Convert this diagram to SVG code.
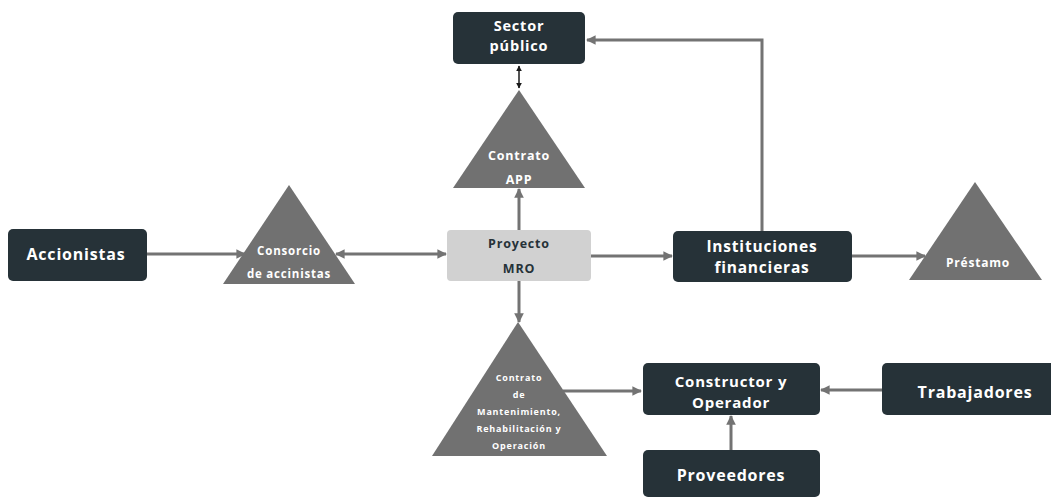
<svg xmlns="http://www.w3.org/2000/svg" width="1051" height="500" viewBox="0 0 1051 500">
  <style>
    .box { fill: #263238; }
    .light { fill: #d1d1d1; }
    .tri { fill: #717171; }
    .t { font-family: "Open Sans", "Liberation Sans", sans-serif; font-weight: 700; text-anchor: middle; fill: #ffffff; letter-spacing: 0.8px; }
    .dark { fill: #263238; }
    .conn { stroke: #737373; stroke-width: 3; fill: none; }
    .connb { stroke: #1a1a1a; stroke-width: 1.5; fill: none; }
  </style>
  <defs>
    <marker id="ah" viewBox="0 0 10 10" refX="9" refY="5" markerWidth="3.2" markerHeight="3.2" orient="auto-start-reverse">
      <path d="M0,0 L10,5 L0,10 Z" fill="#737373"/>
    </marker>
    <marker id="ahb" viewBox="0 0 10 10" refX="9" refY="5" markerWidth="4" markerHeight="4" orient="auto-start-reverse">
      <path d="M0,0 L10,5 L0,10 Z" fill="#1a1a1a"/>
    </marker>
  </defs>
  <rect width="1051" height="500" fill="#ffffff"/>

  <!-- connectors -->
  <g id="connectors">
    <line class="connb" x1="519" y1="66" x2="519" y2="88" marker-start="url(#ahb)" marker-end="url(#ahb)"/>
    <polyline class="conn" points="762,231 762,40 587,40" marker-end="url(#ah)"/>
    <line class="conn" x1="147" y1="254" x2="245" y2="254" marker-end="url(#ah)"/>
    <line class="conn" x1="336" y1="254" x2="446" y2="254" marker-start="url(#ah)" marker-end="url(#ah)"/>
    <line class="conn" x1="519" y1="230" x2="519" y2="189" marker-end="url(#ah)"/>
    <line class="conn" x1="591" y1="256" x2="672" y2="256" marker-end="url(#ah)"/>
    <line class="conn" x1="852" y1="256" x2="925" y2="256" marker-end="url(#ah)"/>
    <line class="conn" x1="519" y1="281" x2="519" y2="322" marker-end="url(#ah)"/>
    <line class="conn" x1="563" y1="391" x2="641" y2="391" marker-end="url(#ah)"/>
    <line class="conn" x1="882" y1="390" x2="821" y2="390" marker-end="url(#ah)"/>
    <line class="conn" x1="731" y1="450" x2="731" y2="416" marker-end="url(#ah)"/>
  </g>

  <g id="sector-publico">
    <rect class="box" x="453" y="12" width="132" height="52" rx="5"/>
    <text class="t" x="519" y="31" font-size="14.5">Sector</text>
    <text class="t" x="519" y="51" font-size="14.5">público</text>
  </g>

  <g id="contrato-app">
    <polygon class="tri" points="519,90 453,188 585,188"/>
    <text class="t" x="519" y="160" font-size="12.5">Contrato</text>
    <text class="t" x="519" y="184" font-size="12.5">APP</text>
  </g>

  <g id="accionistas">
    <rect class="box" x="8" y="229" width="139" height="52" rx="5"/>
    <text class="t" x="76" y="260" font-size="16">Accionistas</text>
  </g>

  <g id="consorcio">
    <polygon class="tri" points="289,185 223,284 355,284"/>
    <text class="t" x="289" y="255" font-size="11.5">Consorcio</text>
    <text class="t" x="289" y="278" font-size="11.5">de accinistas</text>
  </g>

  <g id="proyecto-mro">
    <rect class="light" x="447" y="230" width="144" height="51" rx="4"/>
    <text class="t dark" x="519" y="248" font-size="12.5">Proyecto</text>
    <text class="t dark" x="519" y="273" font-size="12.5">MRO</text>
  </g>

  <g id="instituciones">
    <rect class="box" x="673" y="231" width="179" height="51" rx="5"/>
    <text class="t" x="762" y="252" font-size="15.5">Instituciones</text>
    <text class="t" x="762" y="273" font-size="15.5">financieras</text>
  </g>

  <g id="prestamo">
    <polygon class="tri" points="975,182 909,280 1042,280"/>
    <text class="t" x="978" y="267" font-size="12">Préstamo</text>
  </g>

  <g id="contrato-mro">
    <polygon class="tri" points="518,322 432,456 607,456"/>
    <text class="t" x="519" y="381" font-size="9">Contrato</text>
    <text class="t" x="519" y="398" font-size="9">de</text>
    <text class="t" x="519" y="415" font-size="9">Mantenimiento,</text>
    <text class="t" x="519" y="432" font-size="9">Rehabilitación y</text>
    <text class="t" x="519" y="449" font-size="9">Operación</text>
  </g>

  <g id="constructor">
    <rect class="box" x="643" y="363" width="177" height="52" rx="5"/>
    <text class="t" x="731" y="387" font-size="15">Constructor y</text>
    <text class="t" x="731" y="408" font-size="15">Operador</text>
  </g>

  <g id="proveedores">
    <rect class="box" x="643" y="450" width="177" height="47" rx="5"/>
    <text class="t" x="731" y="481" font-size="16">Proveedores</text>
  </g>

  <g id="trabajadores">
    <rect class="box" x="882" y="363" width="175" height="52" rx="5"/>
    <text class="t" x="975" y="398" font-size="16">Trabajadores</text>
  </g>
</svg>
